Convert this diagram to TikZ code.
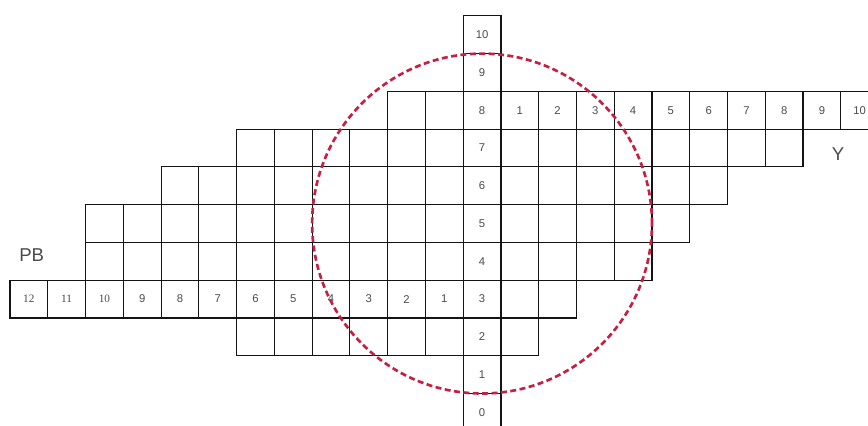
\documentclass[tikz,border=0pt]{standalone}
\usepackage{fontspec}
\setmainfont{Liberation Sans}
\newfontfamily\serifnum{Liberation Serif}
\usetikzlibrary{positioning}
\definecolor{grid_line}{RGB}{20,20,20}
\definecolor{circle_red}{RGB}{196,32,68}
\definecolor{label_gray}{RGB}{75,75,75}
\tikzset{
    cell/.style={
        rectangle, draw=grid_line, line width=0.85pt,
        minimum size=1cm, inner sep=0pt, outer sep=0pt,
        font=\fontsize{8.5}{10}\selectfont, text=label_gray
    },
    zone/.style={
        font=\fontsize{14}{16}\selectfont, text=label_gray
    },
    reach/.style={
        draw=circle_red, line width=2pt, dash pattern=on 4.5pt off 2.6pt
    }
}

\begin{document}
\begin{tikzpicture}[x=1cm, y=1cm]
    \clip (-0.265,0.143) rectangle (22.72,11.42);
    \fill[white] (-0.265,0.143) rectangle (22.72,11.42);

    % --- Celdas vacias por fila (fila/desde/hasta) ---
    \foreach \r/\a/\b in {8/10/22, 7/6/20, 6/4/18, 5/2/17, 4/2/16, 3/0/14, 2/6/13}
        \foreach \c in {\a,...,\b}
            \node[cell] (c\c-\r) at (\c+0.5, \r+0.5) {};

    % --- Columna central 0..10 ---
    \foreach \r in {0,...,10}
        \node[cell] (eje\r) at (12.5, \r+0.5) {\r};

    % --- Fila Y (hacia la derecha) ---
    \foreach \k in {1,...,10}
        \node[cell] (y\k) at (12.5+\k, 8.5) {\k};

    % --- Fila PB (hacia la izquierda) ---
    \foreach \k in {1,...,12}
        \node[cell] (pb\k) at (12.5-\k, 3.5) {\ifnum\k>9 \serifnum\fi\k};

    % --- Rotulos ---
    \node[zone] (pb) at (0.575, 4.67) {PB};
    \node[zone] (ytag) at (21.93, 7.35) {Y};

    % --- Alcance ---
    \draw[reach] (eje5.center) circle[radius=4.5cm];
\end{tikzpicture}
\end{document}
